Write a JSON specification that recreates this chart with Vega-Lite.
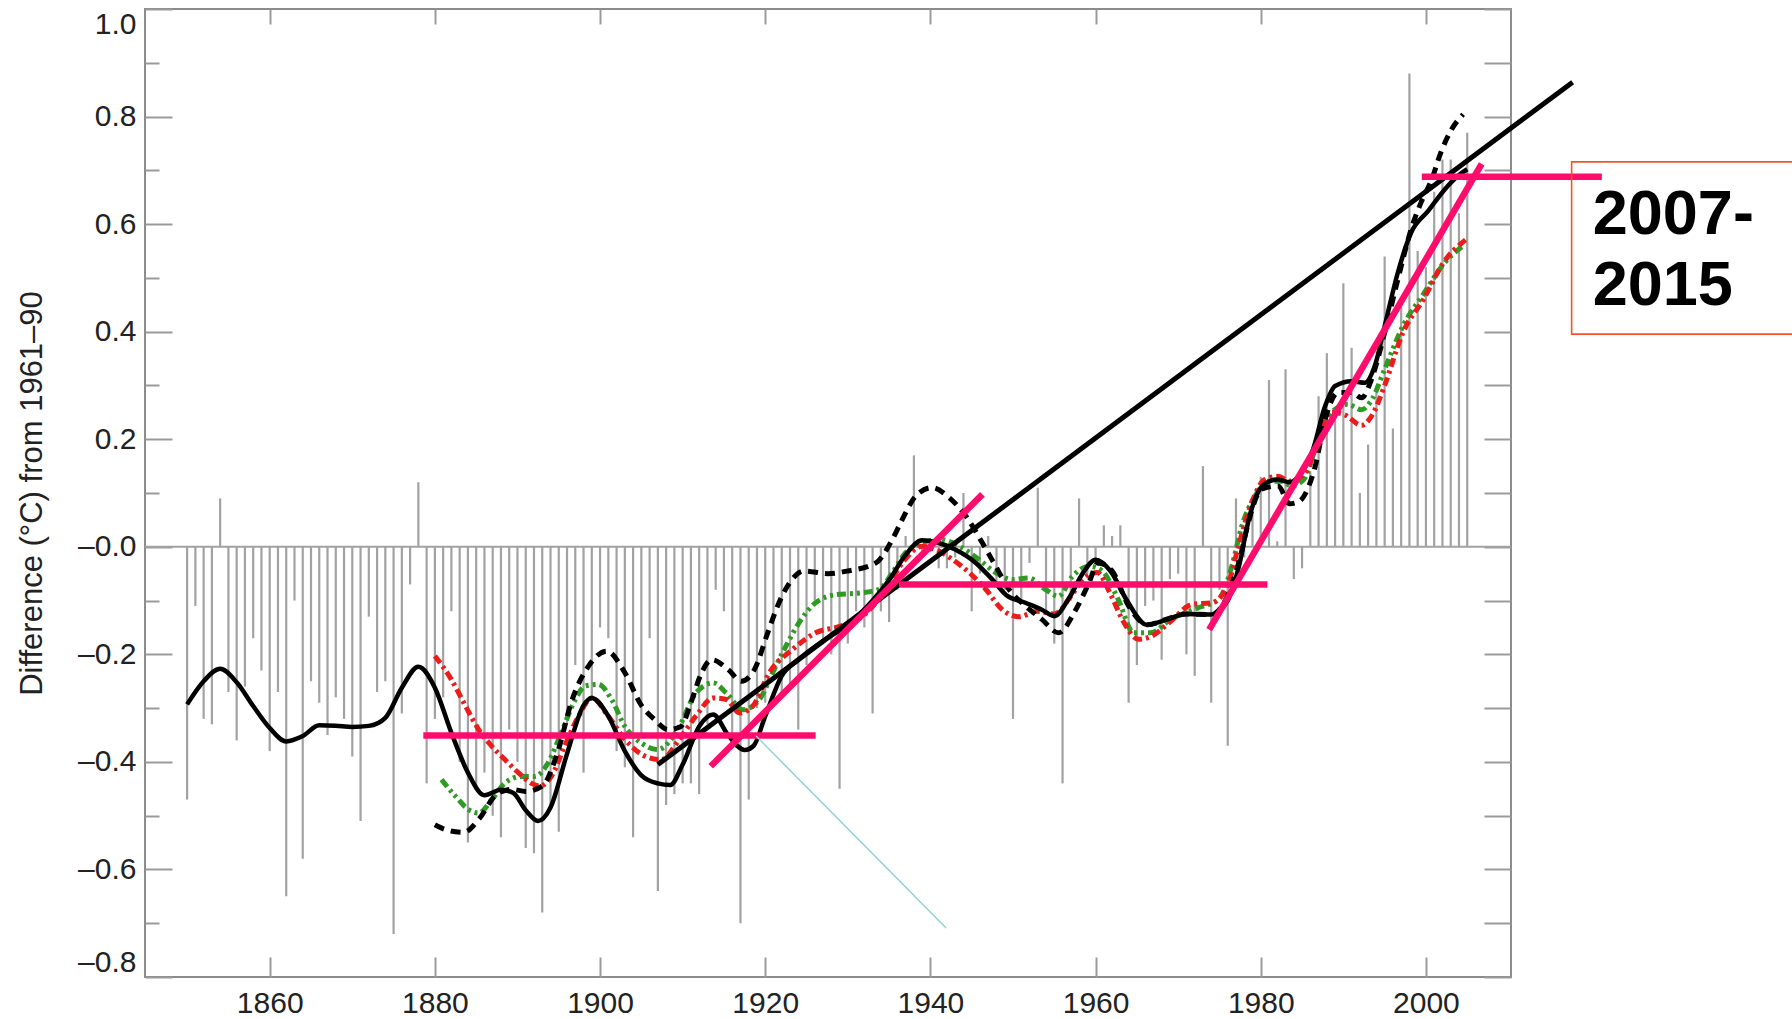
{
  "$schema": "https://vega.github.io/schema/vega-lite/v6.json",
  "autosize": {"type": "none"},
  "width": 1366,
  "height": 968,
  "padding": {"left": 145, "top": 9, "right": 281, "bottom": 42},
  "background": "white",
  "config": {
    "view": {"stroke": "#8c8c8c", "strokeWidth": 2},
    "axis": {"grid": false, "domain": false, "labelFont": "Liberation Sans", "titleFont": "Liberation Sans", "labelColor": "#222222", "titleColor": "#222222", "tickColor": "#9a9a9a", "tickWidth": 2}
  },
  "datasets": {
    "bars": [
      {"year":1850,"value":-0.47},{"year":1851,"value":-0.11},{"year":1852,"value":-0.32},{"year":1853,"value":-0.33},{"year":1854,"value":0.09},
      {"year":1855,"value":-0.27},{"year":1856,"value":-0.36},{"year":1857,"value":-0.26},{"year":1858,"value":-0.17},{"year":1859,"value":-0.23},
      {"year":1860,"value":-0.38},{"year":1861,"value":-0.27},{"year":1862,"value":-0.65},{"year":1863,"value":-0.10},{"year":1864,"value":-0.58},
      {"year":1865,"value":-0.25},{"year":1866,"value":-0.29},{"year":1867,"value":-0.35},{"year":1868,"value":-0.28},{"year":1869,"value":-0.32},
      {"year":1870,"value":-0.39},{"year":1871,"value":-0.51},{"year":1872,"value":-0.13},{"year":1873,"value":-0.27},{"year":1874,"value":-0.25},
      {"year":1875,"value":-0.72},{"year":1876,"value":-0.31},{"year":1877,"value":-0.07},{"year":1878,"value":0.12},{"year":1879,"value":-0.44},
      {"year":1880,"value":-0.32},{"year":1881,"value":-0.28},{"year":1882,"value":-0.12},{"year":1883,"value":-0.40},{"year":1884,"value":-0.55},
      {"year":1885,"value":-0.45},{"year":1886,"value":-0.42},{"year":1887,"value":-0.50},{"year":1888,"value":-0.54},{"year":1889,"value":-0.34},
      {"year":1890,"value":-0.40},{"year":1891,"value":-0.56},{"year":1892,"value":-0.57},{"year":1893,"value":-0.68},{"year":1894,"value":-0.48},
      {"year":1895,"value":-0.53},{"year":1896,"value":-0.33},{"year":1897,"value":-0.22},{"year":1898,"value":-0.42},{"year":1899,"value":-0.28},
      {"year":1900,"value":-0.15},{"year":1901,"value":-0.17},{"year":1902,"value":-0.38},{"year":1903,"value":-0.41},{"year":1904,"value":-0.54},
      {"year":1905,"value":-0.35},{"year":1906,"value":-0.17},{"year":1907,"value":-0.64},{"year":1908,"value":-0.48},{"year":1909,"value":-0.46},
      {"year":1910,"value":-0.44},{"year":1911,"value":-0.44},{"year":1912,"value":-0.46},{"year":1913,"value":-0.33},{"year":1914,"value":-0.08},
      {"year":1915,"value":-0.12},{"year":1916,"value":-0.35},{"year":1917,"value":-0.70},{"year":1918,"value":-0.47},{"year":1919,"value":-0.30},
      {"year":1920,"value":-0.29},{"year":1921,"value":-0.22},{"year":1922,"value":-0.28},{"year":1923,"value":-0.26},{"year":1924,"value":-0.34},
      {"year":1925,"value":-0.22},{"year":1926,"value":-0.10},{"year":1927,"value":-0.18},{"year":1928,"value":-0.20},{"year":1929,"value":-0.45},
      {"year":1930,"value":-0.18},{"year":1931,"value":-0.12},{"year":1932,"value":-0.15},{"year":1933,"value":-0.31},{"year":1934,"value":-0.12},
      {"year":1935,"value":-0.14},{"year":1936,"value":-0.08},{"year":1937,"value":0.02},{"year":1938,"value":0.17},{"year":1939,"value":-0.02},
      {"year":1940,"value":-0.01},{"year":1941,"value":-0.04},{"year":1942,"value":-0.04},{"year":1943,"value":-0.02},{"year":1944,"value":0.10},
      {"year":1945,"value":-0.12},{"year":1946,"value":-0.05},{"year":1947,"value":0.02},{"year":1948,"value":-0.07},{"year":1949,"value":-0.08},
      {"year":1950,"value":-0.32},{"year":1951,"value":-0.10},{"year":1952,"value":-0.03},{"year":1953,"value":0.11},{"year":1954,"value":-0.12},
      {"year":1955,"value":-0.18},{"year":1956,"value":-0.44},{"year":1957,"value":-0.10},{"year":1958,"value":0.09},{"year":1959,"value":-0.05},
      {"year":1960,"value":-0.03},{"year":1961,"value":0.04},{"year":1962,"value":0.02},{"year":1963,"value":0.04},{"year":1964,"value":-0.29},
      {"year":1965,"value":-0.22},{"year":1966,"value":-0.11},{"year":1967,"value":-0.10},{"year":1968,"value":-0.21},{"year":1969,"value":-0.06},
      {"year":1970,"value":-0.05},{"year":1971,"value":-0.20},{"year":1972,"value":-0.24},{"year":1973,"value":0.15},{"year":1974,"value":-0.29},
      {"year":1975,"value":-0.08},{"year":1976,"value":-0.37},{"year":1977,"value":0.09},{"year":1978,"value":-0.02},{"year":1979,"value":0.06},
      {"year":1980,"value":0.13},{"year":1981,"value":0.31},{"year":1982,"value":0.01},{"year":1983,"value":0.33},{"year":1984,"value":-0.06},
      {"year":1985,"value":-0.04},{"year":1986,"value":0.14},{"year":1987,"value":0.28},{"year":1988,"value":0.36},{"year":1989,"value":0.25},
      {"year":1990,"value":0.49},{"year":1991,"value":0.37},{"year":1992,"value":0.10},{"year":1993,"value":0.19},{"year":1994,"value":0.30},
      {"year":1995,"value":0.54},{"year":1996,"value":0.22},{"year":1997,"value":0.45},{"year":1998,"value":0.88},{"year":1999,"value":0.55},
      {"year":2000,"value":0.52},{"year":2001,"value":0.66},{"year":2002,"value":0.72},{"year":2003,"value":0.72},{"year":2004,"value":0.62},
      {"year":2005,"value":0.77}
    ],
    "solid": [
      {"year":1850,"value":-0.293},{"year":1852,"value":-0.25},{"year":1854,"value":-0.227},{"year":1856,"value":-0.252},{"year":1858,"value":-0.296},
      {"year":1860,"value":-0.337},{"year":1862,"value":-0.362},{"year":1864,"value":-0.352},{"year":1866,"value":-0.332},{"year":1868,"value":-0.333},
      {"year":1870,"value":-0.335},{"year":1872,"value":-0.333},{"year":1874,"value":-0.318},{"year":1876,"value":-0.262},{"year":1878,"value":-0.223},
      {"year":1880,"value":-0.262},{"year":1882,"value":-0.346},{"year":1884,"value":-0.42},{"year":1886,"value":-0.462},{"year":1888,"value":-0.452},
      {"year":1889.5,"value":-0.458},{"year":1891,"value":-0.49},{"year":1892.5,"value":-0.51},{"year":1894,"value":-0.485},{"year":1896,"value":-0.385},
      {"year":1898,"value":-0.295},{"year":1899,"value":-0.281},{"year":1901,"value":-0.315},{"year":1903,"value":-0.38},{"year":1905,"value":-0.425},
      {"year":1907,"value":-0.44},{"year":1908.5,"value":-0.443},{"year":1910,"value":-0.405},{"year":1912,"value":-0.334},{"year":1913.7,"value":-0.312},
      {"year":1915.5,"value":-0.35},{"year":1917.5,"value":-0.378},{"year":1918.6,"value":-0.37},{"year":1920,"value":-0.315},{"year":1922,"value":-0.24},
      {"year":1924,"value":-0.21},{"year":1927,"value":-0.175},{"year":1930,"value":-0.145},{"year":1933,"value":-0.1},{"year":1935,"value":-0.062},
      {"year":1937,"value":-0.015},{"year":1939,"value":0.012},{"year":1941,"value":0.007},{"year":1943,"value":-0.005},{"year":1945.5,"value":-0.03},
      {"year":1947.5,"value":-0.061},{"year":1949.2,"value":-0.09},{"year":1951.5,"value":-0.104},{"year":1953.5,"value":-0.117},{"year":1955,"value":-0.129},
      {"year":1956.8,"value":-0.095},{"year":1958.5,"value":-0.048},{"year":1960,"value":-0.024},{"year":1961.8,"value":-0.045},{"year":1963.8,"value":-0.1},
      {"year":1966.2,"value":-0.145},{"year":1968.5,"value":-0.136},{"year":1971,"value":-0.125},{"year":1974,"value":-0.126},{"year":1976,"value":-0.1},
      {"year":1977.3,"value":-0.04},{"year":1978.7,"value":0.06},{"year":1980.3,"value":0.115},{"year":1982,"value":0.125},{"year":1983.5,"value":0.12},
      {"year":1985,"value":0.14},{"year":1986.3,"value":0.18},{"year":1987.8,"value":0.262},{"year":1989,"value":0.299},{"year":1991,"value":0.308},
      {"year":1992.6,"value":0.305},{"year":1993.8,"value":0.336},{"year":1995,"value":0.41},{"year":1996.6,"value":0.51},{"year":1998.2,"value":0.584},
      {"year":2000.3,"value":0.625},{"year":2002.3,"value":0.665},{"year":2003.9,"value":0.69},{"year":2005,"value":0.702}
    ],
    "dashed": [
      {"year":1880,"value":-0.517},{"year":1881.5,"value":-0.527},{"year":1883.5,"value":-0.531},{"year":1885.3,"value":-0.507},{"year":1887.5,"value":-0.46},
      {"year":1889.3,"value":-0.451},{"year":1891,"value":-0.455},{"year":1893,"value":-0.445},{"year":1895,"value":-0.375},{"year":1896.5,"value":-0.29},
      {"year":1898.6,"value":-0.222},{"year":1900.8,"value":-0.194},{"year":1903,"value":-0.234},{"year":1905,"value":-0.295},{"year":1906.6,"value":-0.321},
      {"year":1908.2,"value":-0.34},{"year":1909.8,"value":-0.334},{"year":1911,"value":-0.29},{"year":1912.3,"value":-0.234},{"year":1913.5,"value":-0.21},
      {"year":1915.5,"value":-0.228},{"year":1917.1,"value":-0.25},{"year":1918.7,"value":-0.228},{"year":1920.3,"value":-0.16},{"year":1921.5,"value":-0.11},
      {"year":1922.7,"value":-0.073},{"year":1924.7,"value":-0.045},{"year":1927.6,"value":-0.05},{"year":1930,"value":-0.045},{"year":1933.4,"value":-0.03},
      {"year":1935.4,"value":0.014},{"year":1936.6,"value":0.051},{"year":1938.2,"value":0.094},{"year":1940.2,"value":0.11},{"year":1942.3,"value":0.091},
      {"year":1944.3,"value":0.057},{"year":1946.3,"value":0.007},{"year":1947.9,"value":-0.036},{"year":1949.5,"value":-0.079},{"year":1951.5,"value":-0.11},
      {"year":1953.5,"value":-0.135},{"year":1955.5,"value":-0.16},{"year":1957.6,"value":-0.117},{"year":1959.2,"value":-0.067},{"year":1960.3,"value":-0.03},
      {"year":1962,"value":-0.045},{"year":1964,"value":-0.11},{"year":1966.3,"value":-0.145},{"year":1968.5,"value":-0.135},{"year":1971,"value":-0.125},
      {"year":1974,"value":-0.126},{"year":1976,"value":-0.09},{"year":1977.5,"value":-0.02},{"year":1978.5,"value":0.045},{"year":1980.1,"value":0.107},
      {"year":1982.1,"value":0.113},{"year":1983.5,"value":0.08},{"year":1984.7,"value":0.085},{"year":1985.6,"value":0.105},{"year":1986.6,"value":0.15},
      {"year":1987.8,"value":0.237},{"year":1989.4,"value":0.287},{"year":1991,"value":0.287},{"year":1992.2,"value":0.277},{"year":1993.4,"value":0.311},
      {"year":1995,"value":0.398},{"year":1996.6,"value":0.497},{"year":1998.2,"value":0.59},{"year":1999.4,"value":0.64},{"year":2000.7,"value":0.683},
      {"year":2001.8,"value":0.733},{"year":2003.1,"value":0.776},{"year":2004.5,"value":0.804}
    ],
    "red": [
      {"year":1880,"value":-0.203},{"year":1882,"value":-0.247},{"year":1883.7,"value":-0.296},{"year":1885.3,"value":-0.34},{"year":1886.9,"value":-0.371},
      {"year":1888.5,"value":-0.396},{"year":1890.1,"value":-0.42},{"year":1891.7,"value":-0.44},{"year":1892.7,"value":-0.445},{"year":1894.1,"value":-0.427},
      {"year":1895.7,"value":-0.371},{"year":1897.4,"value":-0.315},{"year":1899,"value":-0.281},{"year":1901,"value":-0.315},{"year":1903,"value":-0.358},
      {"year":1905.4,"value":-0.389},{"year":1907.4,"value":-0.396},{"year":1909.6,"value":-0.358},{"year":1911.6,"value":-0.315},{"year":1913.7,"value":-0.281},
      {"year":1915.3,"value":-0.284},{"year":1916.9,"value":-0.309},{"year":1918.5,"value":-0.296},{"year":1920.5,"value":-0.234},{"year":1923.3,"value":-0.191},
      {"year":1926.1,"value":-0.16},{"year":1929,"value":-0.148},{"year":1931.8,"value":-0.129},{"year":1934.6,"value":-0.079},{"year":1936.6,"value":-0.03},
      {"year":1939,"value":0.001},{"year":1940.6,"value":-0.005},{"year":1942.7,"value":-0.024},{"year":1944.7,"value":-0.048},{"year":1946.7,"value":-0.079},
      {"year":1948.7,"value":-0.117},{"year":1950.7,"value":-0.13},{"year":1953,"value":-0.12},{"year":1955,"value":-0.125},{"year":1957,"value":-0.092},
      {"year":1958.5,"value":-0.06},{"year":1960.2,"value":-0.048},{"year":1961.8,"value":-0.088},{"year":1963.4,"value":-0.14},{"year":1965.2,"value":-0.172},
      {"year":1966.8,"value":-0.166},{"year":1969,"value":-0.14},{"year":1971.7,"value":-0.107},{"year":1974.1,"value":-0.104},{"year":1976.1,"value":-0.067},
      {"year":1977.3,"value":0.001},{"year":1978.9,"value":0.082},{"year":1980.5,"value":0.125},{"year":1982.1,"value":0.131},{"year":1983.5,"value":0.122},
      {"year":1985.5,"value":0.14},{"year":1987,"value":0.2},{"year":1988.5,"value":0.25},{"year":1990.2,"value":0.245},{"year":1992.2,"value":0.226},
      {"year":1993.5,"value":0.245},{"year":1995,"value":0.3},{"year":1997.2,"value":0.398},{"year":1999.7,"value":0.46},{"year":2002.1,"value":0.528},
      {"year":2004.9,"value":0.572}
    ],
    "green": [
      {"year":1880.8,"value":-0.433},{"year":1882.5,"value":-0.464},{"year":1884.1,"value":-0.489},{"year":1885.3,"value":-0.495},{"year":1886.9,"value":-0.47},
      {"year":1888.5,"value":-0.439},{"year":1890.5,"value":-0.427},{"year":1892.1,"value":-0.427},{"year":1893.7,"value":-0.402},{"year":1895.3,"value":-0.346},
      {"year":1897,"value":-0.284},{"year":1898.2,"value":-0.259},{"year":1899.8,"value":-0.256},{"year":1901.4,"value":-0.284},{"year":1903,"value":-0.334},
      {"year":1905,"value":-0.365},{"year":1907,"value":-0.377},{"year":1909.6,"value":-0.334},{"year":1911.6,"value":-0.272},{"year":1913.7,"value":-0.253},
      {"year":1915.3,"value":-0.272},{"year":1917.3,"value":-0.303},{"year":1919.3,"value":-0.284},{"year":1920.9,"value":-0.234},{"year":1922.5,"value":-0.185},
      {"year":1924.1,"value":-0.141},{"year":1926.1,"value":-0.104},{"year":1928.6,"value":-0.089},{"year":1931.4,"value":-0.086},{"year":1933.8,"value":-0.079},
      {"year":1935.4,"value":-0.048},{"year":1937,"value":-0.011},{"year":1939,"value":0.007},{"year":1941,"value":0.014},{"year":1943.5,"value":0.001},
      {"year":1945.9,"value":-0.024},{"year":1947.9,"value":-0.048},{"year":1949.9,"value":-0.061},{"year":1951.9,"value":-0.058},{"year":1953.9,"value":-0.079},
      {"year":1955.5,"value":-0.092},{"year":1957.2,"value":-0.055},{"year":1959.2,"value":-0.036},{"year":1960.8,"value":-0.045},{"year":1962.8,"value":-0.1},
      {"year":1964.6,"value":-0.16},{"year":1966.6,"value":-0.16},{"year":1969.2,"value":-0.134},{"year":1972.5,"value":-0.113},{"year":1974.9,"value":-0.098},
      {"year":1976.5,"value":-0.036},{"year":1977.7,"value":0.038},{"year":1979.3,"value":0.094},{"year":1980.9,"value":0.122},{"year":1982.5,"value":0.122},
      {"year":1983.7,"value":0.113},{"year":1985.2,"value":0.125},{"year":1987,"value":0.2},{"year":1988.6,"value":0.25},{"year":1990.5,"value":0.265},
      {"year":1992.2,"value":0.255},{"year":1993.5,"value":0.275},{"year":1995,"value":0.33},{"year":1997.2,"value":0.41},{"year":1999.7,"value":0.47},
      {"year":2002.1,"value":0.525},{"year":2004.5,"value":0.56}
    ],
    "pink": [
      {"seg":"a","year":1878.6,"value":-0.351},{"seg":"a","year":1926.1,"value":-0.351},
      {"seg":"b","year":1913.4,"value":-0.408},{"seg":"b","year":1946.3,"value":0.0975},
      {"seg":"c","year":1936.2,"value":-0.07},{"seg":"c","year":1980.8,"value":-0.07},
      {"seg":"d","year":1973.75,"value":-0.154},{"seg":"d","year":2006.75,"value":0.712},
      {"seg":"e","year":1999.5,"value":0.688},{"seg":"e","year":2021.3,"value":0.688}
    ],
    "trend": [
      {"year":1907.0,"value":-0.405},{"year":2017.76,"value":0.864}
    ],
    "cyan": [
      {"year":1918.9,"value":-0.352},{"year":1941.9,"value":-0.709}
    ],
    "box": [
      {"x1":2017.64,"x2":2050,"y1":0.3955,"y2":0.7157}
    ],
    "labels": [
      {"label":"2007-","year":2020.2,"value":0.582},
      {"label":"2015","year":2020.2,"value":0.450}
    ]
  },
  "resolve": {"axis": {"x": "independent", "y": "independent"}},
  "layer": [
    {
      "data": {"name": "bars"},
      "mark": {"type": "rule", "color": "#a2a2a2", "strokeWidth": 2.2},
      "encoding": {
        "x": {"field": "year", "type": "quantitative", "scale": {"domain": [1844.9, 2010.3], "nice": false, "zero": false},
              "axis": {"orient": "bottom", "values": [1860,1880,1900,1920,1940,1960,1980,2000], "format": "d", "ticks": false, "labelFontSize": 30, "labelPadding": 11, "labelOverlap": false, "labelFlush": false, "title": null}},
        "y": {"field": "value", "type": "quantitative", "scale": {"domain": [-0.8, 1.0], "nice": false, "zero": false},
              "axis": {"orient": "left", "values": [-0.8,-0.6,-0.4,-0.2,0,0.2,0.4,0.6,0.8,1.0], "ticks": false, "labelFontSize": 30, "labelPadding": 9, "labelOverlap": false, "labelFlush": true,
                       "labelExpr": "datum.value > 0.05 ? format(datum.value, '.1f') : '–' + format(abs(datum.value), '.1f')",
                       "title": "Difference (°C) from 1961–90", "titleFontSize": 31, "titleFontWeight": "normal", "titleX": -113, "titleY": 484, "titleAngle": 270, "titleBaseline": "middle", "titleAlign": "center"}},
        "y2": {"datum": 0}
      }
    },
    {
      "data": {"values": [{}]},
      "mark": {"type": "rule", "color": "#a2a2a2", "strokeWidth": 2},
      "encoding": {
        "y": {"datum": 0, "type": "quantitative", "scale": {"domain": [-0.8, 1.0], "nice": false, "zero": false}, "axis": null}
      }
    },
    {
      "data": {"name": "green"},
      "mark": {"type": "line", "color": "#2f9a24", "strokeWidth": 5, "strokeDash": [9, 4, 3, 4, 3, 4], "interpolate": "monotone"},
      "encoding": {
        "x": {"field": "year", "type": "quantitative", "scale": {"domain": [1844.9, 2010.3], "nice": false, "zero": false}, "axis": null},
        "y": {"field": "value", "type": "quantitative", "scale": {"domain": [-0.8, 1.0], "nice": false, "zero": false}, "axis": null}
      }
    },
    {
      "data": {"name": "red"},
      "mark": {"type": "line", "color": "#ec1c1c", "strokeWidth": 5, "strokeDash": [9, 4, 3, 4], "interpolate": "monotone"},
      "encoding": {
        "x": {"field": "year", "type": "quantitative", "scale": {"domain": [1844.9, 2010.3], "nice": false, "zero": false}, "axis": null},
        "y": {"field": "value", "type": "quantitative", "scale": {"domain": [-0.8, 1.0], "nice": false, "zero": false},
              "axis": {"orient": "left", "values": [-0.7,-0.5,-0.3,-0.1,0.1,0.3,0.5,0.7,0.9], "labels": false, "ticks": true, "tickSize": -14, "title": null}}
      }
    },
    {
      "data": {"name": "dashed"},
      "mark": {"type": "line", "color": "#000000", "strokeWidth": 5, "strokeDash": [10, 7], "interpolate": "monotone"},
      "encoding": {
        "x": {"field": "year", "type": "quantitative", "scale": {"domain": [1844.9, 2010.3], "nice": false, "zero": false},
              "axis": {"orient": "bottom", "values": [1860,1880,1900,1920,1940,1960,1980,2000], "labels": false, "ticks": true, "tickSize": -20, "title": null}},
        "y": {"field": "value", "type": "quantitative", "scale": {"domain": [-0.8, 1.0], "nice": false, "zero": false},
              "axis": {"orient": "left", "values": [-0.8,-0.6,-0.4,-0.2,0,0.2,0.4,0.6,0.8,1.0], "labels": false, "ticks": true, "tickSize": -27, "title": null}}
      }
    },
    {
      "data": {"name": "solid"},
      "mark": {"type": "line", "color": "#000000", "strokeWidth": 4.5, "interpolate": "monotone"},
      "encoding": {
        "x": {"field": "year", "type": "quantitative", "scale": {"domain": [1844.9, 2010.3], "nice": false, "zero": false},
              "axis": {"orient": "top", "values": [1860,1880,1900,1920,1940,1960,1980,2000], "labels": false, "ticks": true, "tickSize": -15, "title": null}},
        "y": {"field": "value", "type": "quantitative", "scale": {"domain": [-0.8, 1.0], "nice": false, "zero": false},
              "axis": {"orient": "right", "values": [-0.8,-0.7,-0.6,-0.5,-0.4,-0.3,-0.2,-0.1,0,0.1,0.2,0.3,0.4,0.5,0.6,0.7,0.8,0.9,1.0], "labels": false, "ticks": true, "tickSize": -27, "title": null}}
      }
    },
    {
      "data": {"name": "trend"},
      "mark": {"type": "line", "color": "#000000", "strokeWidth": 5},
      "encoding": {
        "x": {"field": "year", "type": "quantitative", "scale": {"domain": [1844.9, 2010.3], "nice": false, "zero": false}, "axis": null},
        "y": {"field": "value", "type": "quantitative", "scale": {"domain": [-0.8, 1.0], "nice": false, "zero": false}, "axis": null}
      }
    },
    {
      "data": {"name": "pink"},
      "mark": {"type": "line", "color": "#ff0d6d", "strokeWidth": 6.5},
      "encoding": {
        "x": {"field": "year", "type": "quantitative", "scale": {"domain": [1844.9, 2010.3], "nice": false, "zero": false}, "axis": null},
        "y": {"field": "value", "type": "quantitative", "scale": {"domain": [-0.8, 1.0], "nice": false, "zero": false}, "axis": null},
        "detail": {"field": "seg", "type": "nominal"}
      }
    },
    {
      "data": {"name": "cyan"},
      "mark": {"type": "line", "color": "#93d2d2", "strokeWidth": 1.5},
      "encoding": {
        "x": {"field": "year", "type": "quantitative", "scale": {"domain": [1844.9, 2010.3], "nice": false, "zero": false}, "axis": null},
        "y": {"field": "value", "type": "quantitative", "scale": {"domain": [-0.8, 1.0], "nice": false, "zero": false}, "axis": null}
      }
    },
    {
      "data": {"name": "box"},
      "mark": {"type": "rect", "fill": null, "fillOpacity": 0, "stroke": "#f0552a", "strokeWidth": 1.6},
      "encoding": {
        "x": {"field": "x1", "type": "quantitative", "scale": {"domain": [1844.9, 2010.3], "nice": false, "zero": false}, "axis": null},
        "x2": {"field": "x2"},
        "y": {"field": "y1", "type": "quantitative", "scale": {"domain": [-0.8, 1.0], "nice": false, "zero": false}, "axis": null},
        "y2": {"field": "y2"}
      }
    },
    {
      "data": {"name": "labels"},
      "mark": {"type": "text", "font": "Liberation Sans", "fontWeight": "bold", "fontSize": 63, "align": "left", "baseline": "alphabetic", "color": "#000000"},
      "encoding": {
        "x": {"field": "year", "type": "quantitative", "scale": {"domain": [1844.9, 2010.3], "nice": false, "zero": false}, "axis": null},
        "y": {"field": "value", "type": "quantitative", "scale": {"domain": [-0.8, 1.0], "nice": false, "zero": false}, "axis": null},
        "text": {"field": "label"}
      }
    }
  ]
}
